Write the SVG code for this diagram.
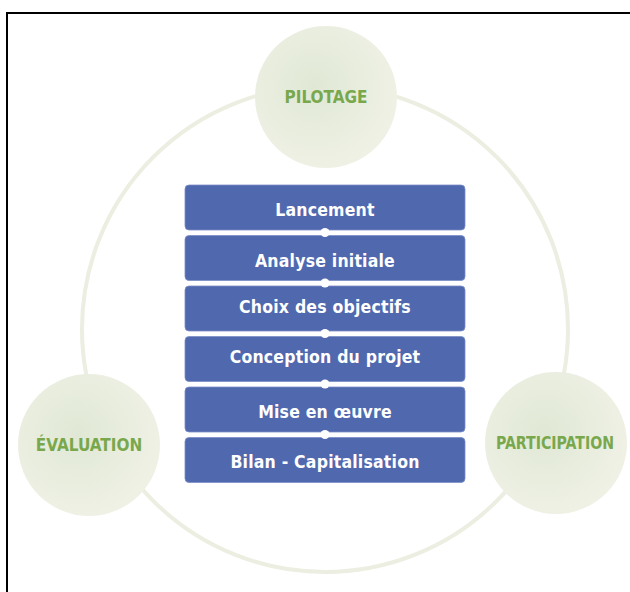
<svg xmlns="http://www.w3.org/2000/svg" width="630" height="592" viewBox="0 0 630 592">
<defs>
<radialGradient id="g" cx="0.42" cy="0.42" r="0.6">
<stop offset="0" stop-color="#e0e8d5"/>
<stop offset="1" stop-color="#eff1e5"/>
</radialGradient>
<style>
.ring{fill:none;stroke:#ebeee0;stroke-width:4}
.bubble{fill:url(#g)}
.lbl{font-family:"DejaVu Sans Condensed","DejaVu Sans",sans-serif;font-weight:bold;font-size:17px;fill:#79a84c;text-anchor:middle}
.box{fill:#5068ae;stroke:#7b8ec6;stroke-width:0.8}
.txt{font-family:"DejaVu Sans Condensed","DejaVu Sans",sans-serif;font-weight:bold;font-size:17.5px;letter-spacing:0.2px;fill:#ffffff;text-anchor:middle}
.dot{fill:#ffffff}
</style>
</defs>
<rect width="630" height="592" fill="#ffffff"/>
<path d="M7,600 V13 H640" fill="none" stroke="#000" stroke-width="2"/>
<g id="connectors">
<circle class="ring" cx="325" cy="329" r="243"/>
</g>
<g id="pilotage"><circle class="bubble" cx="326" cy="97" r="71"/><text class="lbl" x="326" y="103">PILOTAGE</text></g>
<g id="evaluation"><circle class="bubble" cx="89" cy="445" r="71"/><text class="lbl" x="89" y="451">ÉVALUATION</text></g>
<g id="participation"><circle class="bubble" cx="556" cy="443" r="71"/><text class="lbl" x="555" y="449" textLength="118" lengthAdjust="spacingAndGlyphs">PARTICIPATION</text></g>
<g id="step1"><rect class="box" x="185" y="185" width="280" height="45" rx="4"/><text class="txt" x="325" y="216">Lancement</text></g>
<g id="step2"><rect class="box" x="185" y="235.5" width="280" height="45" rx="4"/><text class="txt" x="325" y="266.5">Analyse initiale</text></g>
<g id="step3"><rect class="box" x="185" y="286" width="280" height="45" rx="4"/><text class="txt" x="325" y="313">Choix des objectifs</text></g>
<g id="step4"><rect class="box" x="185" y="336.5" width="280" height="45" rx="4"/><text class="txt" x="325" y="363">Conception du projet</text></g>
<g id="step5"><rect class="box" x="185" y="387" width="280" height="45" rx="4"/><text class="txt" x="325" y="418">Mise en œuvre</text></g>
<g id="step6"><rect class="box" x="185" y="437.5" width="280" height="45" rx="4"/><text class="txt" x="325" y="468">Bilan - Capitalisation</text></g>
<g id="links">
<circle class="dot" cx="325" cy="232.5" r="4.5"/>
<circle class="dot" cx="325" cy="283" r="4.5"/>
<circle class="dot" cx="325" cy="333.5" r="4.5"/>
<circle class="dot" cx="325" cy="384" r="4.5"/>
<circle class="dot" cx="325" cy="434.5" r="4.5"/>
</g>
</svg>
